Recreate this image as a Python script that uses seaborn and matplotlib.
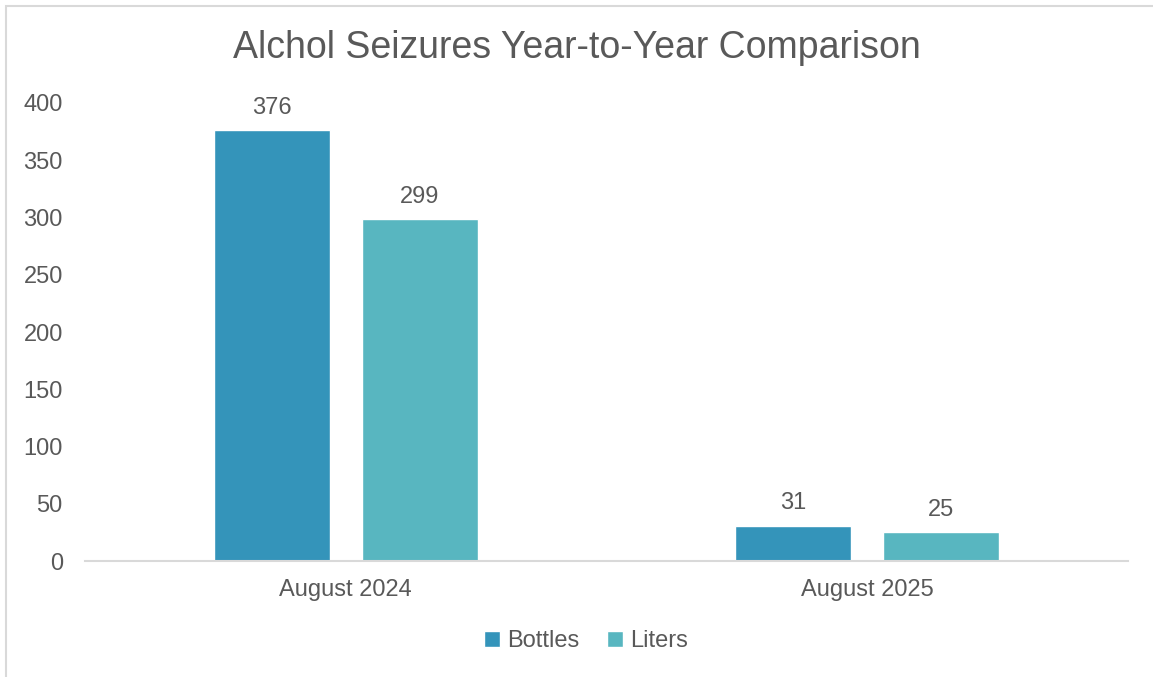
import pandas as pd
import matplotlib
matplotlib.use("Agg")
import matplotlib.pyplot as plt
import seaborn as sns

sns.set_style("white")
plt.rcParams['font.family'] = ['Liberation Sans', 'DejaVu Sans']

months = ['August 2024', 'August 2025']
bottles = [376, 31]
liters = [299, 25]
series = ['Bottles', 'Liters']

df = pd.DataFrame({
    'month': months * 2,
    'value': bottles + liters,
    'kind': ['Bottles'] * len(months) + ['Liters'] * len(months),
})

txt = '#595959'
fig = plt.figure(figsize=(11.53, 6.77), dpi=100)
ax = fig.add_axes([0.0737, 0.1713, 0.9043, 0.6766])

sns.barplot(data=df, x='month', y='value', hue='kind', hue_order=series,
            palette=['#3494BA', '#58B6C0'], width=0.568, gap=0.218,
            saturation=1, ax=ax, legend=True)

for c in ax.containers:
    ax.bar_label(c, fmt='%d', padding=8, fontsize=17, color=txt)

ax.set_ylim(0, 400)
ax.set_yticks(range(0, 401, 50))
ax.set_xlabel('')
ax.set_ylabel('')
ax.tick_params(axis='both', labelsize=17, colors=txt, length=0)
ax.tick_params(axis='y', pad=16)
ax.tick_params(axis='x', pad=13)
for s in ['top', 'right', 'left']:
    ax.spines[s].set_visible(False)
ax.spines['bottom'].set_color('#D9D9D9')
ax.spines['bottom'].set_linewidth(1.5)

fig.suptitle('Alchol Seizures Year-to-Year Comparison', y=1 - 48 / 677, va='center',
             fontsize=27, color=txt)

handles, labels = ax.get_legend_handles_labels()
ax.legend(handles, labels, loc='center', bbox_to_anchor=(586 / 1153, 1 - 641 / 677),
          bbox_transform=fig.transFigure, ncol=2, frameon=False, fontsize=17,
          labelcolor=txt, handlelength=0.65, handleheight=0.65, handletextpad=0.3,
          columnspacing=1.2)

# chart area border (left and top visible)
fig.patches.append(plt.Rectangle((6 / 1153, -0.1), 1.2, 1 - 6 / 677 + 0.1,
                                 transform=fig.transFigure, fill=False,
                                 edgecolor='#D9D9D9', linewidth=1.5))

fig.savefig('out.png', dpi=100)
